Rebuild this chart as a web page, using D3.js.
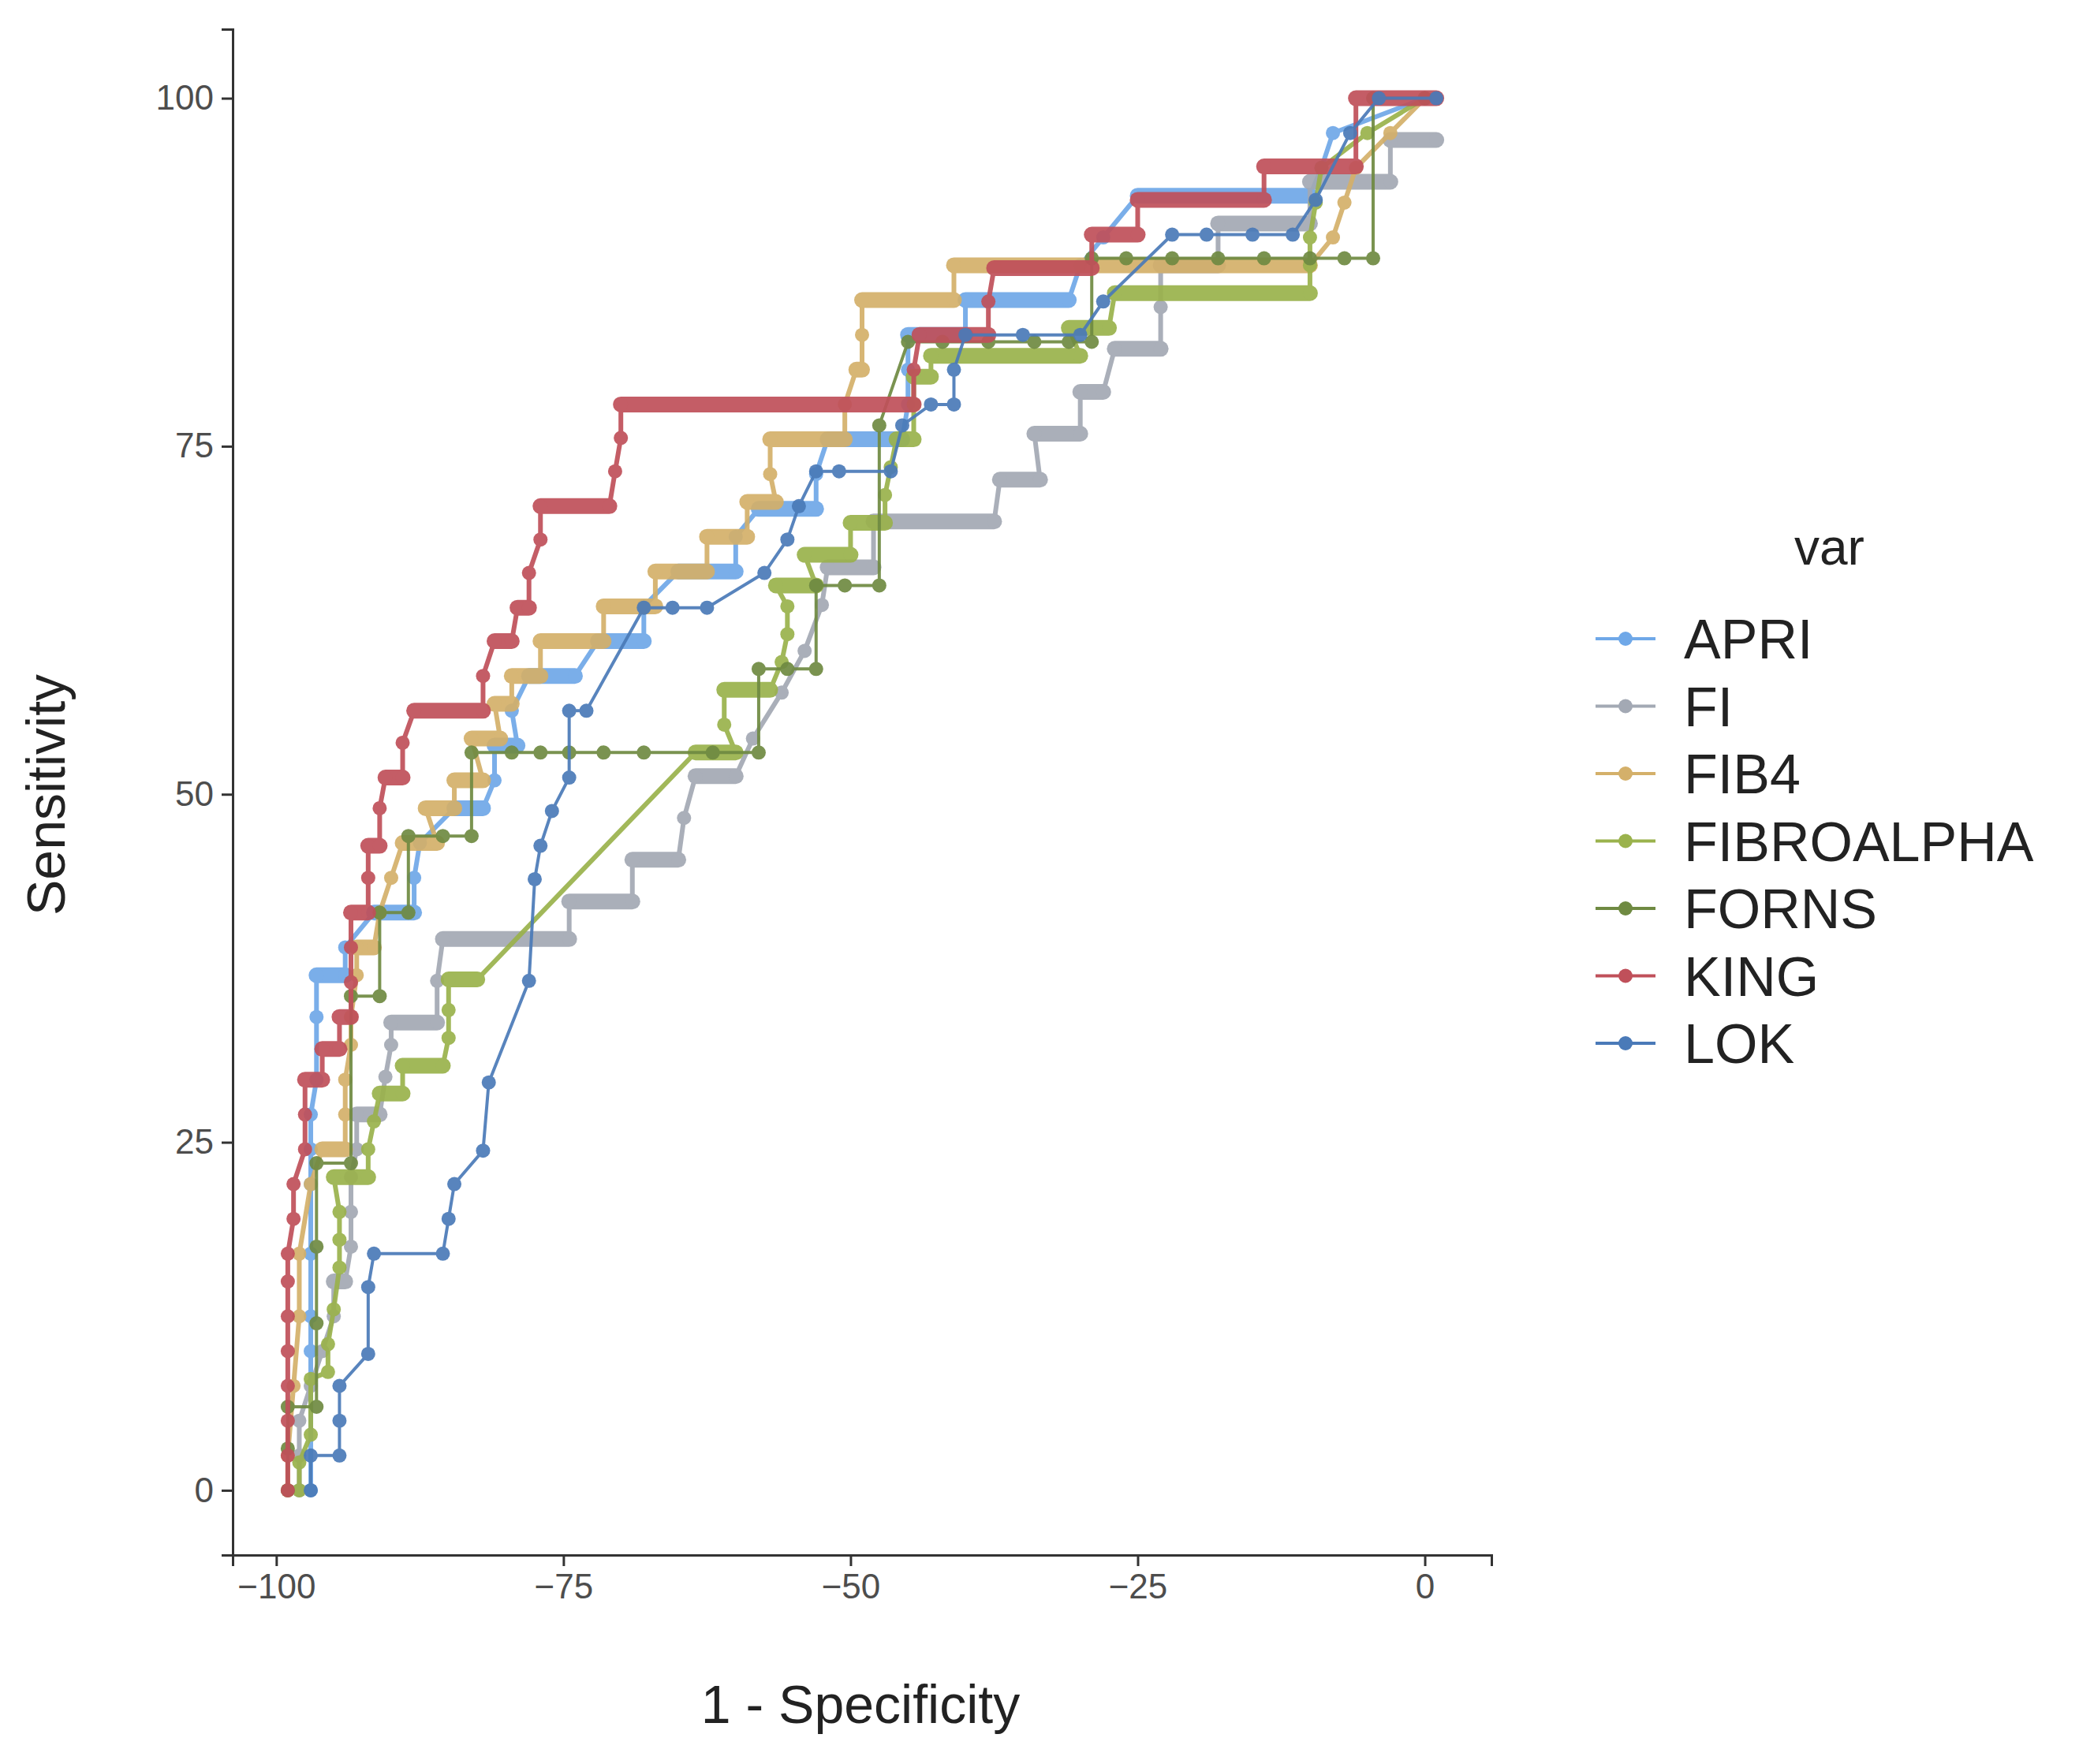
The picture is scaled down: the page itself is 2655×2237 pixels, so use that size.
<!DOCTYPE html>
<html><head><meta charset="utf-8">
<script src="https://cdn.jsdelivr.net/npm/d3@7"></script>
<style>body{margin:0;background:#fff}text{font-family:"Liberation Sans",Arial,sans-serif}</style>
</head><body><svg id="chart" width="2655" height="2237"></svg>
<script>
// series names, colours, and step points
const seriesNames = ["APRI", "FI", "FIB4", "FIBROALPHA", "FORNS", "KING", "LOK"];
const seriesColors = ["#6fa8e8", "#a3a9b4", "#d4b06a", "#9ab24c", "#6f8a42", "#c0505a", "#4a7ab8"];
const xTicks = [-100, -75, -50, -25, 0];
const yTicks = [0, 25, 50, 75, 100];

const apri = [[-97,0],[-97,10],[-97,12.5],[-97,17],[-97,22],[-97,24.5],[-97,27],[-96.5,29.5],[-96.5,34],[-96.5,37],[-94,37],[-94,39],[-91.5,41.5],[-88,41.5],[-88,44],[-87.5,46.5],[-84.5,49],[-82,49],[-81,51],[-81,53.5],[-79,53.5],[-79.5,56],[-78,58.5],[-74,58.5],[-72,61],[-68,61],[-68,63.5],[-65,66],[-60,66],[-60,68.5],[-58,70.5],[-53,70.5],[-53,73],[-52,75.5],[-45.5,75.5],[-45,78],[-45,80.5],[-45,83],[-40,83],[-40,85.5],[-31,85.5],[-30,88],[-28,90],[-25,93],[-10,93],[-9,95],[-8,97.5],[0,100]];
const fi = [[-98,0],[-98,2.5],[-98,5],[-97,7.5],[-96,10],[-95,12.5],[-95,15],[-94,15],[-93.5,17.5],[-93.5,20],[-93.5,22.5],[-93,24.5],[-93,27],[-91,27],[-90.5,29.7],[-90,32],[-90,33.6],[-86,33.6],[-86,36.6],[-85.5,39.6],[-74.5,39.6],[-74.5,42.3],[-69,42.3],[-69,45.3],[-65,45.3],[-64.5,48.3],[-63.5,51.3],[-60,51.3],[-58.5,54],[-56,57.3],[-54,60.3],[-52.5,63.6],[-52,66.3],[-48,66.3],[-48,69.6],[-37.5,69.6],[-37,72.6],[-33.5,72.6],[-34,75.9],[-30,75.9],[-30,78.9],[-28,78.9],[-27,82],[-23,82],[-23,85],[-23,88],[-18,88],[-18,91],[-10,91],[-10,94],[-3,94],[-3,97],[1,97]];
const fib4 = [[-99,0],[-99,2.5],[-98.5,7.5],[-98,12.5],[-98,17],[-97,22],[-96,24.5],[-94,24.5],[-94,27],[-94,29.5],[-93.5,32],[-93.5,34],[-93,37],[-93,39],[-91.5,39],[-91,41.5],[-90,44],[-89,46.5],[-86,46.5],[-87,49],[-84.5,49],[-84.5,51],[-82,51],[-83,54],[-80.5,54],[-81,56.5],[-79.5,56.5],[-79.5,58.5],[-77,58.5],[-77,61],[-71.5,61],[-71.5,63.5],[-67,63.5],[-67,66],[-62.5,66],[-62.5,68.5],[-59,68.5],[-59,71],[-56.5,71],[-57,73],[-57,75.5],[-50.5,75.5],[-50.5,78],[-49.5,80.5],[-49,80.5],[-49,83],[-49,85.5],[-41,85.5],[-41,88],[-10,88],[-8,90],[-7,92.5],[-6,95],[-3,97.5],[0,100]];
const fibroalpha = [[-98,0],[-98,2],[-97,4],[-97,8],[-95.5,8.5],[-95.5,10.5],[-95,13],[-94.5,16],[-94.5,18],[-94.5,20],[-95,22.5],[-92,22.5],[-92,24.5],[-91.5,26.5],[-91,28.5],[-89,28.5],[-89,30.5],[-85.5,30.5],[-85,32.5],[-85,34.5],[-85,36.7],[-82.5,36.7],[-63.5,53],[-60,53],[-61,55],[-61,57.5],[-57,57.5],[-56,59.5],[-55.5,61.5],[-55.5,63.5],[-56.5,65],[-53,65],[-54,67.2],[-50,67.2],[-50,69.5],[-47,69.5],[-47,71.5],[-46.5,73.5],[-46,75.5],[-44.5,75.5],[-44.5,78],[-44.5,80],[-43,80],[-43,81.5],[-30,81.5],[-31,83.5],[-27.5,83.5],[-27,86],[-10,86],[-10,88],[-10,90],[-9.5,92.5],[-9,95],[-5,97.5],[0,100]];
const forns = [[-99,0],[-99,3],[-99,6],[-96.5,6],[-96.5,12],[-96.5,17.5],[-96.5,23.5],[-93.5,23.5],[-93.5,35.5],[-91,35.5],[-91,41.5],[-88.5,41.5],[-88.5,47],[-85.5,47],[-83,47],[-83,53],[-79.5,53],[-77,53],[-74.5,53],[-71.5,53],[-68,53],[-62,53],[-58,53],[-58,59],[-55.5,59],[-53,59],[-53,65],[-50.5,65],[-47.5,65],[-47.5,76.5],[-45,82.5],[-42,82.5],[-38,82.5],[-34,82.5],[-31,82.5],[-29,82.5],[-29,88.5],[-26,88.5],[-22,88.5],[-18,88.5],[-14,88.5],[-10,88.5],[-7,88.5],[-4.5,88.5],[-4.5,100],[0,100]];
const king = [[-99,0],[-99,2.5],[-99,5],[-99,7.5],[-99,10],[-99,12.5],[-99,15],[-99,17],[-98.5,19.5],[-98.5,22],[-97.5,24.5],[-97.5,27],[-97.5,29.5],[-96,29.5],[-96,31.7],[-94.5,31.7],[-94.5,34],[-93.5,34],[-93.5,36.5],[-93.5,39],[-93.5,41.5],[-92,41.5],[-92,44],[-92,46.3],[-91,46.3],[-91,49],[-90.5,51.2],[-89,51.2],[-89,53.7],[-88,56],[-82,56],[-82,58.5],[-81,61],[-79.5,61],[-79,63.4],[-78,63.4],[-78,65.9],[-77,68.3],[-77,70.7],[-71,70.7],[-70.5,73.2],[-70,75.6],[-70,78],[-44.5,78],[-44.5,80.5],[-44,83],[-38,83],[-38,85.4],[-37.5,87.8],[-29,87.8],[-29,90.2],[-25,90.2],[-25,92.7],[-14,92.7],[-14,95.1],[-6,95.1],[-6,100],[1,100]];
const lok = [[-97,0],[-97,2.5],[-94.5,2.5],[-94.5,5],[-94.5,7.5],[-92,9.8],[-92,14.6],[-91.5,17],[-85.5,17],[-85,19.5],[-84.5,22],[-82,24.4],[-81.5,29.3],[-78,36.6],[-77.5,43.9],[-77,46.3],[-76,48.8],[-74.5,51.2],[-74.5,56],[-73,56],[-68,63.4],[-65.5,63.4],[-62.5,63.4],[-57.5,65.9],[-55.5,68.3],[-54.5,70.7],[-53,73.2],[-51,73.2],[-46.5,73.2],[-45.5,76.5],[-43,78],[-41,78],[-41,80.5],[-40,83],[-35,83],[-30,83],[-28,85.4],[-22,90.2],[-19,90.2],[-15,90.2],[-11.5,90.2],[-9.5,92.7],[-6.5,97.5],[-4,100],[1,100]];
const seriesData = [apri, fi, fib4, fibroalpha, forns, king, lok];
const thinSeries = ["FORNS", "LOK"];

const svg = d3.select("#chart");
const x = d3.scaleLinear().domain([-103.8, 5.8]).range([295, 1891]);
const y = d3.scaleLinear().domain([-4.65, 104.96]).range([1972, 37]);

// axes
const xAxis = svg.append("g").attr("transform", "translate(0,1972)")
  .call(d3.axisBottom(x).tickValues(xTicks).tickSize(14).tickPadding(10).tickFormat(d => d < 0 ? "\u2212" + (-d) : d));
const yAxis = svg.append("g").attr("transform", "translate(295,0)")
  .call(d3.axisLeft(y).tickValues(yTicks).tickSize(14).tickPadding(10));
[xAxis, yAxis].forEach(a => {
  a.select(".domain").attr("stroke", "#333").attr("stroke-width", 3);
  a.selectAll(".tick line").attr("stroke", "#333").attr("stroke-width", 3);
  a.selectAll(".tick text").attr("fill", "#4d4d4d").style("font-size", "44px");
});

svg.append("text").attr("x", (295 + 1891) / 2 - 2).attr("y", 2185).attr("text-anchor", "middle")
  .style("font-size", "68px").attr("fill", "#222").text("1 - Specificity");
svg.append("text").attr("transform", "translate(82,1008) rotate(-90)").attr("text-anchor", "middle")
  .style("font-size", "68px").attr("fill", "#222").text("Sensitivity");

const line = d3.line().x(d => x(d[0])).y(d => y(d[1]));

seriesNames.forEach((name, i) => {
  const pts = seriesData[i];
  const col = seriesColors[i];
  const thin = thinSeries.includes(name);
  const g = svg.append("g").attr("opacity", 0.92);
  g.append("path").datum(pts).attr("d", line).attr("fill", "none")
    .attr("stroke", col).attr("stroke-width", thin ? 4 : 6);
  if (!thin) {
    // dense runs of points show as thick horizontal bands
    const runs = [];
    for (let k = 1; k < pts.length; k++) {
      if (pts[k][1] === pts[k - 1][1] && pts[k][0] !== pts[k - 1][0]) runs.push([pts[k - 1], pts[k]]);
    }
    g.selectAll(".run").data(runs).join("line")
      .attr("x1", d => x(d[0][0])).attr("x2", d => x(d[1][0]))
      .attr("y1", d => y(d[0][1])).attr("y2", d => y(d[1][1]))
      .attr("stroke", col).attr("stroke-width", 20).attr("stroke-linecap", "round");
  }
  g.selectAll("circle").data(pts).join("circle")
    .attr("cx", d => x(d[0])).attr("cy", d => y(d[1])).attr("r", 9).attr("fill", col);
});

// legend
const legend = svg.append("g");
legend.append("text").attr("x", 2275).attr("y", 716).style("font-size", "64px").attr("fill", "#222").text("var");
seriesNames.forEach((name, i) => {
  const yy = 810 + i * 85.5;
  legend.append("line").attr("x1", 2023).attr("x2", 2099).attr("y1", yy).attr("y2", yy)
    .attr("stroke", seriesColors[i]).attr("stroke-width", 4);
  legend.append("circle").attr("cx", 2061).attr("cy", yy).attr("r", 9).attr("fill", seriesColors[i]);
  legend.append("text").attr("x", 2135).attr("y", yy + 25).style("font-size", "70px")
    .attr("fill", "#222").text(name);
});
</script></body></html>
